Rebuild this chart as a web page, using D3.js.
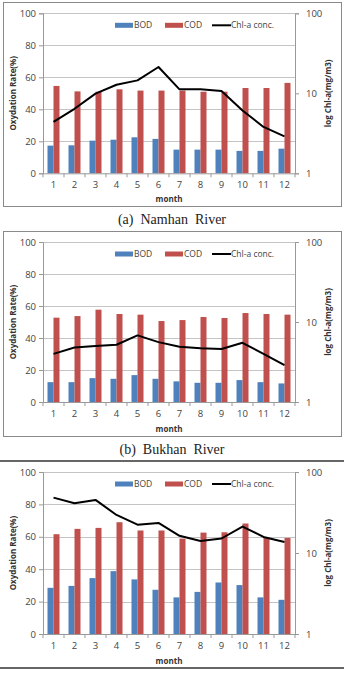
<!DOCTYPE html>
<html>
<head>
<meta charset="utf-8">
<script src="https://cdn.jsdelivr.net/npm/d3@7/dist/d3.min.js"></script>
<style>
  body { margin: 0; background: #fff; }
  svg { display: block; }
  .tick text { font-family: "Open Sans", "DejaVu Sans", sans-serif; font-size: 9.5px; fill: #444; }
  .caption { white-space: pre; }
</style>
</head>
<body>
<svg width="344" height="674"></svg>
<script>
let months = ["1","2","3","4","5","6","7","8","9","10","11","12"];
let leftTicks = [0, 20, 40, 60, 80, 100];
let rightTicks = [1, 10, 100];

// (a) Namhan River
let bodA = [17.3, 17.5, 20.4, 21, 22.5, 21.5, 14.8, 14.8, 14.8, 14, 14, 15.4];
let codA = [54.6, 51.2, 51, 52.5, 51.7, 51.7, 51.7, 51, 51, 53.3, 53.3, 56.5];
let chlA = [4.4, 6.4, 9.9, 12.8, 14.5, 21.3, 11.2, 11.2, 10.7, 6.1, 3.8, 2.9];

// (b) Bukhan River
let bodB = [12.4, 12.4, 14.9, 14.5, 16.8, 14.5, 12.9, 12, 12, 13.7, 12.4, 11.6];
let codB = [52.7, 53.7, 57.7, 55, 54.6, 50.6, 51.2, 53.1, 52.5, 55.6, 55, 54.6];
let chlB = [4.0, 4.8, 5.0, 5.2, 6.8, 5.6, 4.9, 4.7, 4.6, 5.5, 4.0, 2.9];

// (c)
let bodC = [28.5, 29.7, 34.5, 38.8, 33.7, 27.3, 22.6, 26, 31.8, 30.2, 22.6, 21.1];
let codC = [61.6, 64.9, 65.5, 69, 63.9, 63.9, 58.9, 62.6, 62.8, 68.2, 59.5, 59.3];
let chlC = [48.3, 41.1, 45.2, 29.5, 22.4, 23.5, 16.3, 14.1, 15.1, 21.2, 15.8, 13.7];

let captions = ["(a)  Namhan  River", "(b)  Bukhan  River", null];

let svg = d3.select("svg");
let blue = "#4f81bd", red = "#c0504d";

function drawPanel(p) {
  let g = svg.append("g");
  let x0 = 43, x1 = 295;

  // frame
  if (p.frame === "box") {
    g.append("rect")
      .attr("x", 3.5).attr("y", p.top + 0.5)
      .attr("width", 338).attr("height", p.bottom - p.top)
      .attr("fill", "none").attr("stroke", "#8a8a8a").attr("stroke-width", 1);
  } else {
    g.append("line").attr("x1", 0).attr("x2", 344).attr("y1", p.top).attr("y2", p.top)
      .attr("stroke", "#333").attr("stroke-width", 1.5);
    g.append("line").attr("x1", 0).attr("x2", 344).attr("y1", p.bottom).attr("y2", p.bottom)
      .attr("stroke", "#333").attr("stroke-width", 1.5);
  }

  let x = d3.scaleBand().domain(months).range([x0, x1]);
  let y = d3.scaleLinear().domain([0, 100]).range([p.y0, p.y1]);
  let yr = d3.scaleLog().domain([1, 100]).range([p.y0, p.y1]);

  // gridlines
  g.append("g").selectAll("line").data(leftTicks.slice(1)).enter().append("line")
    .attr("x1", x0).attr("x2", x1)
    .attr("y1", d => Math.round(y(d)) + 0.5).attr("y2", d => Math.round(y(d)) + 0.5)
    .attr("stroke", "#c4c4c4").attr("stroke-width", 1);

  // bars
  let bw = 6;
  g.append("g").selectAll("rect").data(p.bod).enter().append("rect")
    .attr("x", (d, i) => x(months[i]) + x.bandwidth() / 2 - bw)
    .attr("y", d => y(d)).attr("width", bw).attr("height", d => p.y0 - y(d))
    .attr("fill", blue);
  g.append("g").selectAll("rect").data(p.cod).enter().append("rect")
    .attr("x", (d, i) => x(months[i]) + x.bandwidth() / 2)
    .attr("y", d => y(d)).attr("width", bw).attr("height", d => p.y0 - y(d))
    .attr("fill", red);

  // axes
  let ax = g.append("g").attr("transform", `translate(0,${p.y0})`)
    .call(d3.axisBottom(x).tickSize(0).tickPadding(8));
  ax.select(".domain").attr("stroke", "#999");
  ax.selectAll(".sep").data(d3.range(13)).enter().append("line")
    .attr("x1", i => x0 + i * x.step()).attr("x2", i => x0 + i * x.step())
    .attr("y1", 0).attr("y2", 4).attr("stroke", "#999");

  let al = g.append("g").attr("transform", `translate(${x0},0)`)
    .call(d3.axisLeft(y).tickValues(leftTicks).tickSize(4).tickPadding(3));
  al.select(".domain").attr("stroke", "#999");
  al.selectAll(".tick line").attr("stroke", "#999");

  let ar = g.append("g").attr("transform", `translate(${x1},0)`)
    .call(d3.axisRight(yr).tickValues(rightTicks).tickFormat(d3.format("d")).tickSize(4).tickPadding(7));
  ar.select(".domain").attr("stroke", "#999");
  ar.selectAll(".tick line").attr("stroke", "#999");

  // chl-a line
  let line = d3.line()
    .x((d, i) => x(months[i]) + x.bandwidth() / 2)
    .y(d => yr(d));
  g.append("path").datum(p.chl)
    .attr("d", line).attr("fill", "none")
    .attr("stroke", "#000").attr("stroke-width", 2).attr("stroke-linejoin", "round");

  // legend
  let ly = p.y1 + 12;
  let lg = g.append("g").attr("font-family", "'Open Sans', 'DejaVu Sans', sans-serif")
    .attr("font-size", 8.5).attr("fill", "#444");
  lg.append("rect").attr("x", 115).attr("y", ly - 2.5).attr("width", 18).attr("height", 5).attr("fill", blue);
  lg.append("text").attr("x", 134).attr("y", ly + 3).text("BOD");
  lg.append("rect").attr("x", 165).attr("y", ly - 2.5).attr("width", 18).attr("height", 5).attr("fill", red);
  lg.append("text").attr("x", 184).attr("y", ly + 3).text("COD");
  lg.append("line").attr("x1", 212).attr("x2", 231).attr("y1", ly).attr("y2", ly)
    .attr("stroke", "#000").attr("stroke-width", 2);
  lg.append("text").attr("x", 231).attr("y", ly + 3).text("Chl-a conc.");

  // axis titles
  let tf = "'Open Sans', 'DejaVu Sans', sans-serif";
  let ym = (p.y0 + p.y1) / 2;
  g.append("text").attr("transform", `translate(16,${ym}) rotate(-90)`)
    .attr("text-anchor", "middle").attr("font-family", tf).attr("font-size", 8)
    .attr("font-weight", "bold").attr("fill", "#333").text("Oxydation Rate(%)");
  g.append("text").attr("transform", `translate(331,${ym}) rotate(-90)`)
    .attr("text-anchor", "middle").attr("font-family", tf).attr("font-size", 8)
    .attr("font-weight", "bold").attr("fill", "#333").text("log Chl-a(mg/m3)");
  g.append("text").attr("x", (x0 + x1) / 2).attr("y", p.bottom - 4)
    .attr("text-anchor", "middle").attr("font-family", tf).attr("font-size", 8)
    .attr("font-weight", "bold").attr("fill", "#333").text("month");

  if (p.caption) {
    svg.append("text").attr("class", "caption").attr("x", 172).attr("y", p.bottom + 18)
      .attr("text-anchor", "middle").attr("font-family", "'Liberation Serif', serif")
      .attr("font-size", 14).attr("fill", "#222").text(p.caption);
  }
}

drawPanel({top: 2, bottom: 206, y1: 13.3, y0: 173.3, bod: bodA, cod: codA, chl: chlA, frame: "box", caption: captions[0]});
drawPanel({top: 231, bottom: 436, y1: 242, y0: 402, bod: bodB, cod: codB, chl: chlB, frame: "box", caption: captions[1]});
drawPanel({top: 461, bottom: 668, y1: 472, y0: 634, bod: bodC, cod: codC, chl: chlC, frame: "rules", caption: captions[2]});
</script>
</body>
</html>
